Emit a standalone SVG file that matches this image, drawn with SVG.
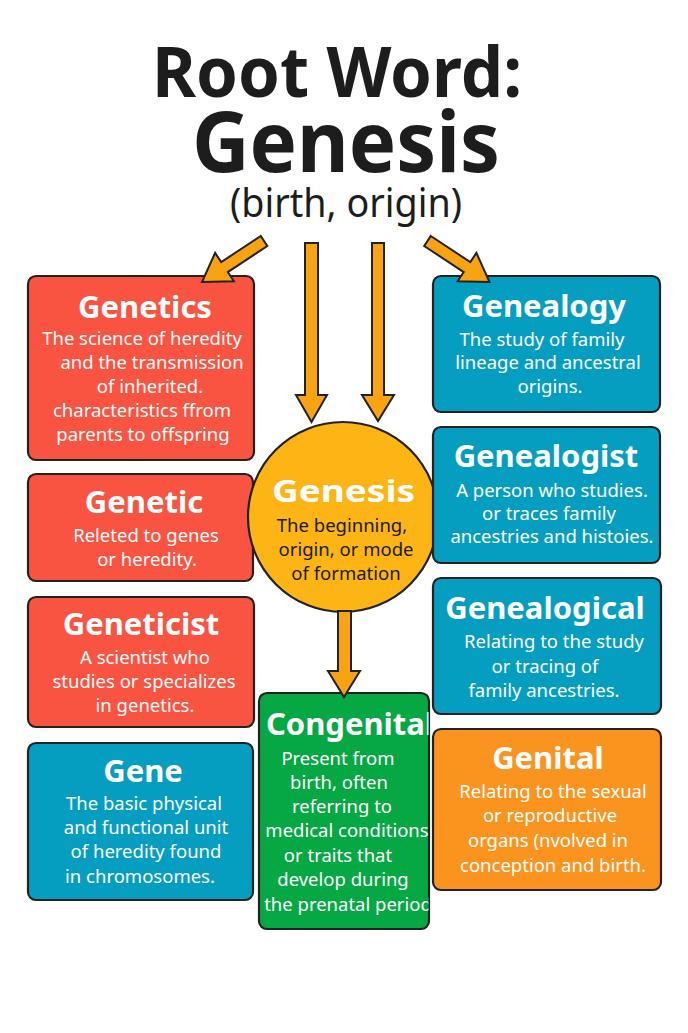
<svg xmlns="http://www.w3.org/2000/svg" width="688" height="1033" viewBox="0 0 688 1033">
<style>
.box{stroke:#222;stroke-width:2.2}
.red{fill:#F95341}.blue{fill:#059EC0}.green{fill:#06A843}.orange{fill:#FB931F}
.ttl{font-family:"Noto Sans","Liberation Sans",sans-serif;font-weight:700;font-size:31px;fill:#fff;text-anchor:middle}
.bd{font-family:"Noto Sans","Liberation Sans",sans-serif;font-size:18.5px;fill:#fff;text-anchor:middle}
.dk{fill:#1a1a1a}
.hd{font-family:"Noto Sans","Liberation Sans",sans-serif;fill:#1d1d1d;text-anchor:middle}
.arr{fill:#F8A412;stroke:#222;stroke-width:2;stroke-linejoin:miter}
</style>
<defs>
<clipPath id="cgclip"><rect x="260" y="694" width="168.5" height="234" rx="7"/></clipPath>
</defs>
<rect x="0" y="0" width="688" height="1033" fill="#fff"/>
<g id="title">
<text class="hd" x="337" y="97" font-size="70" font-weight="700" textLength="370" lengthAdjust="spacingAndGlyphs">Root Word:</text>
<text class="hd" x="346" y="172" font-size="84" font-weight="700" textLength="308" lengthAdjust="spacingAndGlyphs">Genesis</text>
<text class="hd" x="346" y="217" font-size="40" textLength="232" lengthAdjust="spacingAndGlyphs">(birth, origin)</text>
</g>
<g id="genetics">
<rect class="box red" x="28" y="276" width="226" height="184" rx="8"/>
<text class="ttl" x="145" y="318">Genetics</text>
<text class="bd" x="142" y="345">The science of heredity</text>
<text class="bd" x="152" y="369">and the transmission</text>
<text class="bd" x="150" y="393">of inherited.</text>
<text class="bd" x="142" y="417">characteristics ffrom</text>
<text class="bd" x="143" y="441">parents to offspring</text>
</g>
<g id="genetic">
<rect class="box red" x="28" y="474" width="225" height="107" rx="8"/>
<text class="ttl" x="144" y="513">Genetic</text>
<text class="bd" x="146" y="542">Releted to genes</text>
<text class="bd" x="147" y="566">or heredity.</text>
</g>
<g id="geneticist">
<rect class="box red" x="28" y="597" width="226" height="130" rx="8"/>
<text class="ttl" x="141" y="635">Geneticist</text>
<text class="bd" x="145" y="664">A scientist who</text>
<text class="bd" x="144" y="688">studies or specializes</text>
<text class="bd" x="145" y="712">in genetics.</text>
</g>
<g id="gene">
<rect class="box blue" x="28" y="743" width="225" height="157" rx="8"/>
<text class="ttl" x="143" y="782">Gene</text>
<text class="bd" x="144" y="810">The basic physical</text>
<text class="bd" x="146" y="834">and functional unit</text>
<text class="bd" x="146" y="858">of heredity found</text>
<text class="bd" x="140" y="883">in chromosomes.</text>
</g>
<g id="genesis">
<circle cx="343" cy="517" r="95" fill="#FDB515" stroke="#222" stroke-width="2.2"/>
<text class="ttl" x="343.5" y="502" font-size="37" textLength="143" lengthAdjust="spacingAndGlyphs">Genesis</text>
<text class="bd dk" x="342" y="532">The beginning,</text>
<text class="bd dk" x="346" y="556">origin, or mode</text>
<text class="bd dk" x="346" y="580">of formation</text>
</g>
<g id="genealogy">
<rect class="box blue" x="433" y="276" width="227" height="136" rx="8"/>
<text class="ttl" x="544" y="317">Genealogy</text>
<text class="bd" x="542" y="346">The study of family</text>
<text class="bd" x="548" y="369">lineage and ancestral</text>
<text class="bd" x="550" y="393">origins.</text>
</g>
<g id="genealogist">
<rect class="box blue" x="433" y="427" width="227" height="136" rx="8"/>
<text class="ttl" x="546" y="467">Genealogist</text>
<text class="bd" x="552" y="497">A person who studies.</text>
<text class="bd" x="549" y="520">or traces family</text>
<text class="bd" x="552" y="543">ancestries and histoies.</text>
</g>
<g id="genealogical">
<rect class="box blue" x="433" y="578" width="228" height="136" rx="8"/>
<text class="ttl" x="545" y="619">Genealogical</text>
<text class="bd" x="554" y="648">Relating to the study</text>
<text class="bd" x="545" y="673">or tracing of</text>
<text class="bd" x="544" y="697">family ancestries.</text>
</g>
<g id="genital">
<rect class="box orange" x="433" y="729" width="228" height="161" rx="8"/>
<text class="ttl" x="548" y="769">Genital</text>
<text class="bd" x="553" y="798">Relating to the sexual</text>
<text class="bd" x="550" y="822">or reproductive</text>
<text class="bd" x="548" y="847">organs (nvolved in</text>
<text class="bd" x="553" y="872">conception and birth.</text>
</g>
<g id="congenital">
<rect class="box green" x="259" y="693" width="170" height="236" rx="8"/>
<g clip-path="url(#cgclip)">
<text class="ttl" x="350" y="735" font-size="29">Congenital</text>
<text class="bd" x="338" y="765">Present from</text>
<text class="bd" x="339" y="789">birth, often</text>
<text class="bd" x="342" y="813">referring to</text>
<text class="bd" x="347" y="837">medical conditions</text>
<text class="bd" x="338" y="862">or traits that</text>
<text class="bd" x="343" y="886">develop during</text>
<text class="bd" x="348" y="911">the prenatal period</text>
</g>
</g>
<g id="connectors">
<polygon class="arr" points="260.7,236 221.2,262.1 215.1,252.9 202,282 233.9,281.3 227.8,272.1 267.3,246"/>
<polygon class="arr" points="430.8,236 470.3,262.1 476.4,252.9 489.5,282 457.6,281.3 463.7,272.1 424.2,246"/>
<polygon class="arr" points="305,243 318,243 318,395 327,395 311.5,422 296,395 305,395"/>
<polygon class="arr" points="372,243 384,243 384,395 394,395 378,421 362,395 372,395"/>
<polygon class="arr" points="338,611 351,611 351,671 360,671 344,697 328,671 338,671"/>
</g>
</svg>
